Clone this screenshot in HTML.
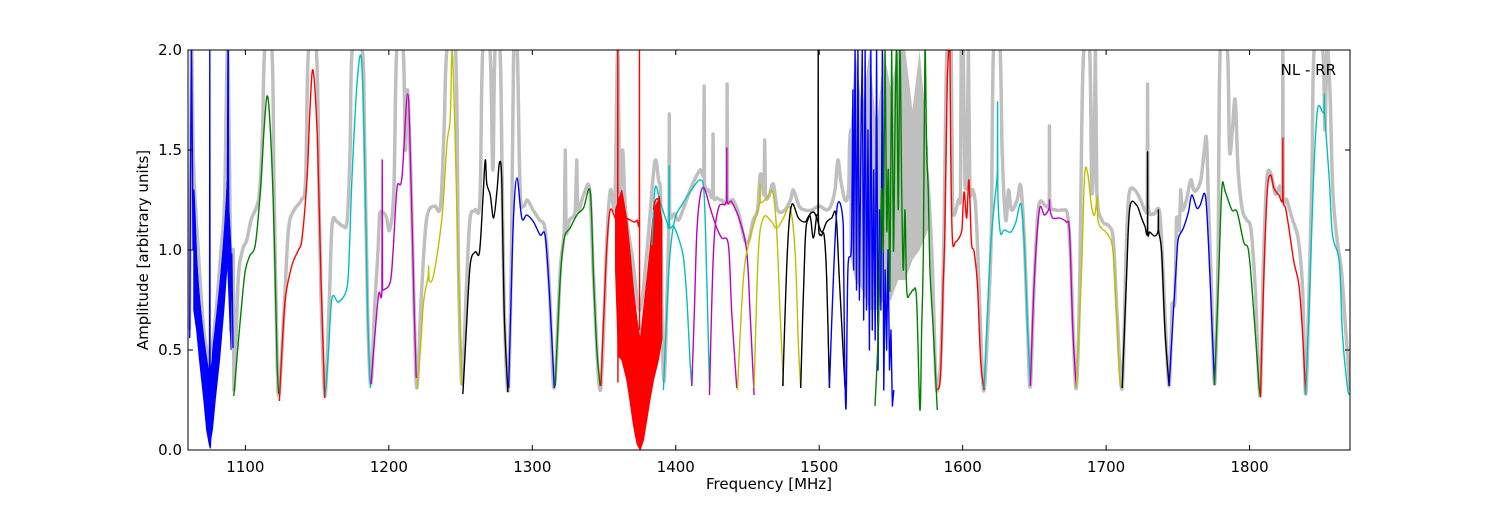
<!DOCTYPE html>
<html><head><meta charset="utf-8">
<style>
html,body{margin:0;padding:0;background:#fff;}
svg text{font-family:"DejaVu Sans","Liberation Sans",sans-serif;}
</style></head>
<body>
<svg id="chart" width="1500" height="500" viewBox="0 0 1500 500" xmlns="http://www.w3.org/2000/svg">
<rect x="0" y="0" width="1500" height="500" fill="#fff"/>
<defs><clipPath id="pc"><rect x="188" y="50" width="1162" height="400"/></clipPath></defs>
<g id="plot" clip-path="url(#pc)"></g>
<g id="axes"></g>
</svg>
<script>
const xTicks = [1100,1200,1300,1400,1500,1600,1700,1800];
const yTicks = [0.0,0.5,1.0,1.5,2.0];
const yTickLabels = ["0.0","0.5","1.0","1.5","2.0"];

const grayF = [1061,1062.4,1064,1068,1071,1075,1079,1083,1085.5,1087.5,1089,1090,1091.5,1092,1095,1098,1101,1104,1108,1110,1112,1113.5,1118.5,1120,1122,1123.5,1127,1130,1134,1139,1142,1144,1149.5,1151.5,1153,1155.5,1158.5,1160.5,1164,1168,1171,1173,1174.5,1181.5,1183,1185.2,1187.5,1190,1192.5,1193.5,1198,1200.5,1203.5,1205.5,1210,1211.5,1213,1215.4,1217.7,1219.6,1222.5,1225.5,1228,1232,1236,1238.5,1240.5,1246.5,1248.6,1250.9,1254,1256.5,1260,1263.5,1265.5,1270.5,1272.5,1274,1277.5,1279,1280.5,1283.2,1285.5,1287,1289.5,1291.5,1294,1296.5,1300.5,1305,1309,1312,1315.3,1319.5,1322.3,1323,1323.5,1326,1330,1331,1331.5,1336,1340,1342.7,1347.5,1352,1354.5,1357.5,1359.5,1361,1363,1365,1370,1375,1380,1384,1386,1388,1389.5,1390.5,1392,1394,1395.3,1395.5,1395.7,1399,1402,1406,1410,1413,1417,1419.6,1419.8,1420,1423,1425.8,1426,1426.2,1429,1432,1435.6,1435.8,1436,1440,1444,1448,1451,1454,1457,1459,1461.5,1462,1462.5,1465,1468,1471,1476,1480,1482,1486,1490,1495,1500,1505,1508,1511,1513,1515,1518,1520.5,1522,1570,1572,1575,1577,1579,1581,1582.5,1585,1587,1589,1592,1593,1597,1598.5,1599,1600.5,1601.5,1603,1604,1605,1607,1609,1611,1613,1615,1618,1620,1621.5,1626,1627.5,1630,1632,1634,1638,1640.5,1643,1645.3,1647.2,1650,1653,1658,1660.4,1660.5,1660.6,1665,1670,1673,1675,1677,1679.2,1681.5,1683,1684.5,1688.5,1690,1691.5,1692.5,1693.5,1697,1702,1705,1707.5,1711.2,1714,1716,1720,1724,1727,1728.7,1728.9,1729.1,1733,1737,1739,1741.5,1743.9,1745.5,1746,1748,1749,1751,1752,1753,1756,1759,1761,1763,1766,1768.5,1770,1771.5,1773.5,1775.6,1778,1779.5,1784.5,1786,1788,1790,1792,1795,1798,1801,1804,1807.3,1809.5,1812,1815,1818,1821,1823,1823.2,1823.4,1826,1830,1834,1837,1839.1,1841.5,1843.5,1845,1851,1852.5,1854,1856,1858,1861,1864,1867,1870];
const grayA = [0.6,2.0,1.4,0.9,0.6,0.45,0.65,1.0,1.25,2.0,1.4,0.6,1.0,0.3,0.85,1.0,1.05,1.15,1.22,1.3,1.6,2.0,2.0,1.3,0.5,0.28,0.7,1.1,1.2,1.25,1.35,2.0,2.0,1.2,0.7,0.27,0.75,1.13,1.14,1.12,1.15,1.5,2.0,2.0,1.6,0.7,0.33,0.7,1.0,1.18,1.17,1.1,1.3,2.0,2.0,1.5,1.8,1.36,0.69,0.31,0.75,1.1,1.2,1.22,1.22,1.6,2.0,2.0,0.9,0.33,0.8,1.15,1.2,1.25,2.0,2.0,1.4,2.0,2.0,1.35,0.7,0.3,1.0,2.0,2.0,1.3,1.22,1.25,1.2,1.15,1.1,0.8,0.31,0.9,1.1,1.5,1.1,1.15,1.2,1.45,1.2,1.28,1.3,0.86,0.3,1.05,1.3,1.22,2.0,1.3,1.5,1.2,0.95,0.7,1.0,1.35,1.45,1.35,1.25,0.6,0.35,0.8,1.2,1.68,1.2,1.18,1.15,1.22,1.3,1.35,1.4,1.4,1.82,1.35,1.3,1.28,1.58,1.28,1.26,1.25,1.28,1.83,1.28,1.25,1.18,1.05,1.05,1.15,1.2,1.38,1.28,1.55,1.28,1.27,1.33,1.2,1.2,1.25,1.3,1.22,1.2,1.2,1.22,1.2,1.22,1.3,1.45,1.35,1.25,1.3,1.6,1.6,1.6,1.4,1.2,0.9,0.4,0.3,0.5,1.1,2.0,2.0,1.2,1.25,1.3,2.0,2.0,1.35,1.4,2.0,1.3,1.3,1.22,0.9,0.5,0.3,0.7,1.1,2.0,2.0,1.5,1.15,1.3,1.2,1.25,1.32,1.05,0.6,0.32,0.86,1.22,1.22,1.25,1.62,1.25,1.2,1.2,1.18,1.0,0.6,0.31,0.8,1.6,2.0,2.0,1.3,1.5,2.0,1.3,1.15,1.12,1.05,0.7,0.31,1.0,1.28,1.3,1.25,1.2,1.25,1.83,1.25,1.18,1.2,1.0,0.6,0.32,0.6,0.73,0.75,1.15,1.1,1.3,1.2,1.25,1.35,1.3,1.3,1.35,1.5,1.55,1.2,0.8,0.33,0.95,2.0,2.0,1.5,1.6,1.75,1.4,1.2,1.15,1.1,0.8,0.27,0.9,1.35,1.38,1.28,1.32,1.3,2.0,1.3,1.25,1.15,1.05,0.8,0.28,0.8,1.4,2.0,2.0,1.6,2.0,1.8,1.3,1.05,0.9,0.6,0.3];

// gray RFI block (1522-1578 MHz)
const grayBlockF = [1521,1525,1530,1535,1540,1545,1550,1555,1560,1565,1570,1576];
const grayBlockHi = [1.5,2.0,1.7,2.0,1.6,2.0,1.8,2.0,2.0,1.7,2.0,1.5];
const grayBlockLo = [1.0,0.85,0.8,0.7,0.7,0.75,0.75,0.85,0.85,0.95,1.0,1.1];

// RFI filled envelopes
const blueDipF = [1064,1066,1068,1071,1073,1075,1077,1079,1082,1085,1087.5,1090];
const blueDipLo = [0.7,0.6,0.45,0.25,0.1,0.02,0.1,0.25,0.45,0.7,0.95,0.5];
const blueDipHi = [1.3,0.95,0.75,0.55,0.45,0.38,0.45,0.6,0.8,1.05,1.35,1.0];
const redRfiF = [1358,1360,1362.4,1365.9,1368,1370.6,1373,1375.2,1377.5,1379.8,1382,1384.5,1387.9,1390.3];
const redRfiLo = [0.9,0.47,0.45,0.35,0.25,0.12,0.03,0.0,0.05,0.15,0.25,0.35,0.45,0.55];
const redRfiHi = [1.2,1.25,1.3,1.15,1.0,0.8,0.65,0.55,0.7,0.85,1.0,1.2,1.25,1.15];

const bandColors = ["#0000ff","#008000","#ff0000","#00bfbf","#bf00bf","#bfbf00","#000000","#0000ff","#008000","#ff0000","#00bfbf","#00bfbf","#bf00bf","#bf00bf","#bfbf00","#bfbf00","#000000","#000000","#0000ff","#008000","#ff0000","#00bfbf","#bf00bf","#bfbf00","#000000","#0000ff","#008000","#ff0000","#00bfbf","#ff0000","#0000ff"];
const bandFreqs = [
[1061.2,1062.4,1063.5,1064,1066,1068,1071,1073,1075,1075.2,1075.4,1077,1079,1082,1085,1087.5,1087.9,1088.5,1089.5,1090.5,1091.4],
[1091.9,1094,1097.7,1100,1103,1107,1110.5,1113,1115.1,1117,1119.3,1121,1122.1,1123.2],
[1123.7,1125.5,1127.9,1132.5,1137,1139.5,1143,1145,1147.1,1149.9,1151.5,1152.7,1155.3],
[1155.7,1158,1160.4,1165,1170.8,1172.5,1174.3,1177.8,1180.8,1182.9,1185.2,1187.1],
[1187.6,1190,1192.9,1195.2,1195.4,1195.6,1196.4,1201,1203,1205.7,1209.1,1213.1,1215.4,1217.7,1219.1],
[1219.6,1222,1224.2,1227.5,1227.7,1228,1231.2,1237,1240.5,1242.8,1244.2,1246.3,1248.6,1250.9],
[1251.6,1254,1256.7,1260.2,1263.2,1265.6,1267.2,1268.3,1270.7,1273,1275.3,1277.2,1278.8,1280.4,1283],
[1283.5,1285,1286.9,1289.3,1292.7,1296.2,1300.9,1305.5,1309,1312,1315.3],
[1316,1319.5,1322.3,1326.4,1331.1,1335.7,1340.4,1342.7,1345,1347.3],
[1347.8,1350,1352,1354.3,1357.8,1359.5,1359.6,1359.7,1360,1365,1371,1373,1374.6,1374.7,1374.8],
[1383.3,1385.6,1389.1,1393.8,1395.3,1395.4,1395.5,1398.4,1401.9,1405.4,1407.7,1410,1411.2],
[1391.4,1393.8,1396.1,1399.6,1404.2,1410,1417,1419.8,1421.6,1423.5],
[1411.2,1413,1414.7,1417,1419.8,1424,1428.6,1432.1,1436.7,1439,1442.5],
[1423.5,1426.3,1429.8,1435.5,1435.6,1435.7,1439,1444.9,1449.5,1451.8,1454.6],
[1443,1447.2,1451.8,1458.7,1458.8,1458.9,1463.4,1467.6,1470.4,1472.7,1475.1],
[1454.6,1457.6,1461.1,1465.8,1470.4,1475.1,1479.7,1483.2,1485.5,1487.1],
[1474.6,1477.8,1480.8,1485.5,1490.1,1493.6,1495.9,1498.3,1499.2,1499.3,1499.4,1501.1,1503.4,1505.2,1507.1],
[1487.1,1490.1,1492.5,1495.9,1498.3,1501.7,1505.2,1508.7,1511.7,1514,1518],
[1507.1,1509.9,1512.7,1516.8,1517.5,1518.7,1520,1522.6,1523.5,1524,1525,1526,1527,1528,1529,1530,1531,1532,1533,1534,1535,1536,1537,1538,1539,1540,1541,1542,1543,1544,1545,1546,1547,1548,1549,1550,1551,1552],
[1538.9,1541.2,1543.5,1544.7,1545.9,1547,1548.2,1549.3,1550.5,1551.7,1552.8,1554,1555.1,1556.3,1557.5,1558.6,1559.8,1561,1563.3,1565.6,1567.9,1570.2,1571.4,1572.6,1573.7,1574.9,1576,1577.2,1579.5,1582.3],
[1582.3,1584.6,1586.5,1587.4,1589.3,1590.2,1591.1,1591.6,1592.8,1595.1,1598.6,1599.5,1601,1602.8,1604.4,1606.1,1608,1610.3,1612.6,1615],
[1615,1617.3,1619.6,1622,1624.2,1624.3,1624.5,1626.2,1629,1633.6,1637.1,1640.6,1643,1645.3,1647.2],
[1647.2,1650,1653.5,1657,1660.4,1660.5,1660.6,1662.8,1667.5,1672.2,1674.5,1676.8,1679.2],
[1679.2,1682.7,1685,1687.3,1689.7,1692,1693.9,1694,1695.5,1701.4,1704.9,1707.2,1709.5,1711.2],
[1711.2,1714.2,1716.5,1721.2,1724.7,1727,1728.8,1728.9,1729,1730.5,1734,1736.3,1736.4,1736.5,1738.7,1741,1743.9],
[1743.9,1746.9,1749.2,1750.4,1753.9,1757.4,1759.7,1763.2,1765.6,1769.1,1771.4,1773.9,1775.6],
[1775.6,1778.4,1780.7,1783.1,1787.7,1791.3,1795.9,1799.4,1802.9,1806.4,1807.6],
[1807.6,1809.9,1812.3,1814.6,1816.9,1820.4,1823.1,1823.2,1823.3,1825.1,1827.4,1830.9,1834.4,1836.8,1839.1],
[1839.1,1841.4,1844.6,1847.3,1850.8,1852,1852.1,1852.2,1855.5,1857.8,1862.5,1864.8,1868.3,1870],
[1384.5,1386,1387.9,1389,1390.3],
[1087.9,1088,1088.1]
];
const bandAmps = [
[0.56,2.0,1.0,1.3,0.95,0.75,0.55,0.45,0.35,2.0,0.02,0.45,0.6,0.8,1.05,1.35,2.0,1.0,0.6,0.98,0.51],
[0.27,0.45,0.75,0.9,0.97,1.03,1.3,1.6,1.77,1.65,1.27,0.8,0.44,0.28],
[0.245,0.5,0.76,0.925,1.0,1.06,1.36,1.7,1.9,1.61,1.2,0.86,0.26],
[0.275,0.5,0.76,0.74,0.81,1.0,1.36,1.83,1.96,1.53,0.69,0.31],
[0.33,0.55,0.78,0.8,1.45,0.8,0.8,0.84,1.0,1.31,1.36,1.78,1.36,0.69,0.36],
[0.31,0.5,0.74,0.87,0.92,0.85,0.875,1.16,1.53,1.66,2.0,1.53,0.86,0.325],
[0.28,0.6,0.925,0.99,0.99,1.26,1.45,1.33,1.275,1.16,1.29,1.44,1.33,0.69,0.29],
[0.31,0.7,1.16,1.36,1.16,1.175,1.14,1.075,1.07,0.775,0.31],
[0.32,0.86,1.06,1.11,1.175,1.21,1.29,0.86,0.5,0.32],
[0.32,0.7,1.025,1.2,1.16,1.16,2.0,0.34,1.15,1.16,1.14,1.15,1.15,2.0,0.6],
[1.025,1.31,1.24,1.14,1.13,1.42,1.13,1.12,1.06,0.96,0.76,0.44,0.32],
[0.3,0.69,0.99,1.16,1.225,1.29,1.35,1.275,0.86,0.32],
[0.32,0.7,1.09,1.27,1.31,1.21,1.11,1.06,1.025,0.69,0.31],
[0.275,0.99,1.21,1.25,1.51,1.25,1.24,1.14,0.99,0.69,0.275],
[0.3,0.86,1.06,1.24,1.33,1.24,1.26,1.29,1.09,0.69,0.32],
[0.31,0.99,1.16,1.15,1.11,1.16,1.21,0.99,0.525,0.31],
[0.32,0.99,1.225,1.16,1.14,1.17,1.06,1.175,1.18,2.0,1.18,1.075,1.075,0.86,0.31],
[0.31,1.025,1.16,1.19,1.16,1.09,1.14,1.16,1.175,0.86,0.31],
[0.31,0.86,1.225,1.12,0.6,0.21,0.9,1.04,1.8,0.9,2.0,0.8,2.0,0.75,1.5,2.0,0.65,2.0,0.7,1.6,0.5,2.0,0.6,1.4,0.55,2.0,0.4,1.2,0.7,2.0,0.3,0.9,0.5,1.0,0.4,0.6,0.22,0.3],
[0.22,0.6,1.3,1.0,2.0,1.1,1.4,0.8,2.0,1.0,1.6,2.0,1.2,2.0,1.3,0.9,1.2,0.8,0.78,0.8,0.75,0.2,0.6,1.0,2.0,1.5,1.3,0.9,0.6,0.2],
[0.3,0.375,0.85,1.025,1.86,2.0,2.0,1.53,1.06,1.04,1.075,1.1,1.29,1.16,1.35,1.04,0.99,0.825,0.44,0.3],
[0.31,0.69,1.025,1.225,1.4,1.74,1.3,1.09,1.1,1.09,1.14,1.23,1.025,0.6,0.32],
[0.32,0.86,1.2,1.175,1.21,1.25,1.21,1.16,1.16,1.14,1.09,0.6,0.31],
[0.31,0.86,1.375,1.375,1.225,1.175,1.27,1.175,1.12,1.075,0.99,0.69,0.36,0.31],
[0.31,0.86,1.21,1.225,1.16,1.12,1.1,1.49,1.1,1.09,1.07,1.1,1.2,1.1,0.99,0.6,0.32],
[0.32,0.69,0.96,1.06,1.11,1.19,1.275,1.21,1.225,1.275,1.025,0.6,0.325],
[0.325,0.86,1.31,1.29,1.2,1.19,1.04,0.99,0.69,0.34,0.265],
[0.265,0.86,1.29,1.375,1.31,1.275,1.26,1.56,1.26,1.21,1.11,0.94,0.825,0.6,0.275],
[0.275,0.69,1.36,1.7,1.69,1.69,1.78,1.69,1.36,1.075,0.94,0.575,0.31,0.28],
[1.2,1.25,1.25,1.2,0.55],
[1.0,2.0,1.0]
];

const X0=188, X1=1350, Y0=450, Y1=50, FMIN=1060, FMAX=1870, AMIN=0, AMAX=2;
function xs(f){return X0+(f-FMIN)*(X1-X0)/(FMAX-FMIN);}
function ys(a){return Y0-(a-AMIN)*(Y0-Y1)/(AMAX-AMIN);}
const NS="http://www.w3.org/2000/svg";
const plot=document.getElementById('plot');
const axes=document.getElementById('axes');
function mk(tag,attrs,parent){const e=document.createElementNS(NS,tag);for(const k in attrs)e.setAttribute(k,attrs[k]);parent.appendChild(e);return e;}
function smoothD(F,A){
  const P=F.map((f,i)=>[xs(f),ys(A[i])]);
  let d='M'+P[0][0].toFixed(2)+' '+P[0][1].toFixed(2);
  for(let i=0;i<P.length-1;i++){
    const p0=P[Math.max(0,i-1)],p1=P[i],p2=P[i+1],p3=P[Math.min(P.length-1,i+2)];
    const dx=p2[0]-p1[0];
    if(dx<1.5){d+=' L'+p2[0].toFixed(2)+' '+p2[1].toFixed(2);continue;}
    let c1x=p1[0]+(p2[0]-p0[0])/6,c1y=p1[1]+(p2[1]-p0[1])/6;
    let c2x=p2[0]-(p3[0]-p1[0])/6,c2y=p2[1]-(p3[1]-p1[1])/6;
    c1x=Math.min(Math.max(c1x,p1[0]),p2[0]);c2x=Math.min(Math.max(c2x,p1[0]),p2[0]);
    const lo=Math.min(p1[1],p2[1])-15,hi=Math.max(p1[1],p2[1])+15;
    c1y=Math.min(Math.max(c1y,lo),hi);c2y=Math.min(Math.max(c2y,lo),hi);
    d+=' C'+c1x.toFixed(2)+' '+c1y.toFixed(2)+' '+c2x.toFixed(2)+' '+c2y.toFixed(2)+' '+p2[0].toFixed(2)+' '+p2[1].toFixed(2);
  }
  return d;
}
function bandD(F,Lo,Hi){let d=F.map((f,i)=>(i?'L':'M')+xs(f).toFixed(2)+' '+ys(Hi[i]).toFixed(2)).join(' ');for(let i=F.length-1;i>=0;i--)d+=' L'+xs(F[i]).toFixed(2)+' '+ys(Lo[i]).toFixed(2);return d+' Z';}

// gray reference
let g1=mk('path',{d:bandD(grayBlockF,grayBlockLo,grayBlockHi),fill:'#bfbfbf',stroke:'none'},plot);


let g2=mk('path',{d:smoothD(grayF,grayA),fill:'none',stroke:'#bfbfbf','stroke-width':3.5,'stroke-linejoin':'round'},plot);


let g3=mk('path',{d:bandD(blueDipF,blueDipLo.map(v=>v+0.05),blueDipHi.map(v=>v+0.1)),fill:'#bfbfbf',stroke:'none'},plot);



// RFI fills
let bd=mk('path',{d:bandD(blueDipF,blueDipLo,blueDipHi),fill:'#0000ff',stroke:'#0000ff','stroke-width':1},plot);


let rr=mk('path',{d:bandD(redRfiF,redRfiLo,redRfiHi),fill:'#ff0000',stroke:'#ff0000','stroke-width':1},plot);



bandFreqs.forEach((F,i)=>{
  const p=mk('path',{d:smoothD(F,bandAmps[i]),fill:'none',stroke:bandColors[i],'stroke-width':1.4,'stroke-linejoin':'round'},plot);
  
  
});

// frame
let fr=mk('rect',{x:X0,y:Y1,width:X1-X0,height:Y0-Y1,fill:'none',stroke:'#000','stroke-width':1},axes);


xTicks.forEach(t=>{
  const x=xs(t);
  mk('line',{x1:x,y1:Y0,x2:x,y2:Y0-5,stroke:'#000'},axes);
  mk('line',{x1:x,y1:Y1,x2:x,y2:Y1+5,stroke:'#000'},axes);
  const tx=mk('text',{x:x,y:Y0+22,'font-size':15,'text-anchor':'middle',fill:'#000'},axes);
  tx.textContent=String(t);
  
  
});
yTicks.forEach((t,i)=>{
  const y=ys(t);
  mk('line',{x1:X0,y1:y,x2:X0+5,y2:y,stroke:'#000'},axes);
  mk('line',{x1:X1,y1:y,x2:X1-5,y2:y,stroke:'#000'},axes);
  const tx=mk('text',{x:X0-6,y:y+5,'font-size':15,'text-anchor':'end',fill:'#000'},axes);
  tx.textContent=yTickLabels[i];
  
  
});
let xt=mk('text',{x:(X0+X1)/2,y:489,'font-size':15,'text-anchor':'middle',fill:'#000'},axes);
xt.textContent='Frequency [MHz]';


let yt=mk('text',{x:0,y:0,'font-size':15,'text-anchor':'middle',fill:'#000',transform:'translate(148,250) rotate(-90)'},axes);
yt.textContent='Amplitude [arbitrary units]';


let lb=mk('text',{x:1336,y:75,'font-size':15,'text-anchor':'end',fill:'#000'},axes);
lb.textContent='NL - RR';


</script>
</body></html>
